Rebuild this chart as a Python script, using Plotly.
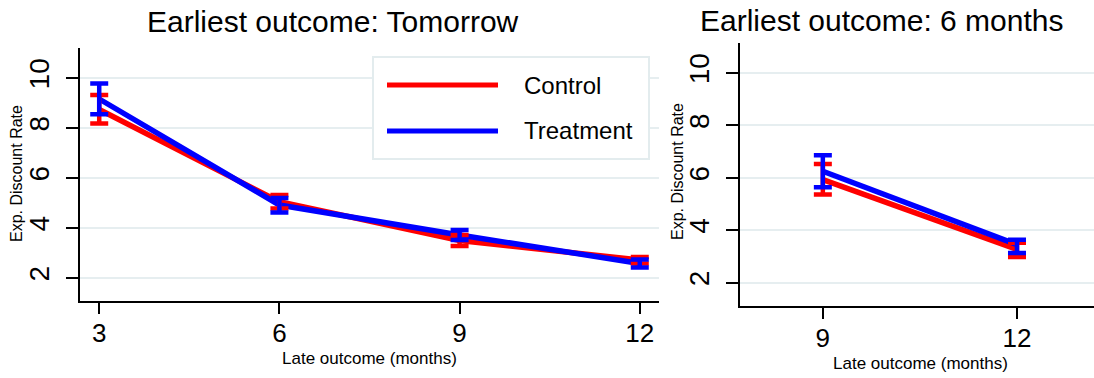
import plotly.graph_objects as go

# ---- data ----
late_left = [3, 6, 9, 12]
ctrl_left = [8.74, 5.05, 3.50, 2.72]
ctrl_left_lo = [8.18, 4.78, 3.28, 2.58]
ctrl_left_hi = [9.32, 5.32, 3.72, 2.84]
trt_left = [9.16, 4.92, 3.72, 2.58]
trt_left_lo = [8.55, 4.62, 3.52, 2.42]
trt_left_hi = [9.78, 5.20, 3.92, 2.74]

late_right = [9, 12]
ctrl_right = [5.93, 3.27]
ctrl_right_lo = [5.36, 2.98]
ctrl_right_hi = [6.53, 3.52]
trt_right = [6.25, 3.45]
trt_right_lo = [5.64, 3.13]
trt_right_hi = [6.86, 3.64]

y_ticks = [2, 4, 6, 8, 10]
series_names = ["Control", "Treatment"]
RED = "#ff0000"
BLUE = "#0000ff"
FONT = "Liberation Sans, Arial, Helvetica, sans-serif"

W, H = 1094, 378
def px(x):
    return x / W
def py(y):
    return 1 - y / H

fig = go.Figure()

def add_series(x, y, color, xa, ya, name):
    fig.add_trace(go.Scatter(x=x, y=y, mode="lines", line=dict(color=color, width=5.5),
                             xaxis=xa, yaxis=ya, showlegend=False, name=name))

def add_err(x, y, lo, hi, color, xa, ya, name):
    fig.add_trace(go.Scatter(
        x=x, y=y, mode="markers", marker=dict(size=1, color=color, opacity=0),
        error_y=dict(type="data", symmetric=False,
                     array=[h - v for h, v in zip(hi, y)],
                     arrayminus=[v - l for l, v in zip(lo, y)],
                     color=color, thickness=4.5, width=9),
        xaxis=xa, yaxis=ya, showlegend=False, name=name, hoverinfo="skip"))

add_series(late_left, ctrl_left, RED, "x", "y", "Control")
add_series(late_left, trt_left, BLUE, "x", "y", "Treatment")
add_series(late_right, ctrl_right, RED, "x2", "y2", "Control")
add_series(late_right, trt_right, BLUE, "x2", "y2", "Treatment")
add_err(late_left, ctrl_left, ctrl_left_lo, ctrl_left_hi, RED, "x", "y", "Control")
add_err(late_left, trt_left, trt_left_lo, trt_left_hi, BLUE, "x", "y", "Treatment")
add_err(late_right, ctrl_right, ctrl_right_lo, ctrl_right_hi, RED, "x2", "y2", "Control")
add_err(late_right, trt_right, trt_right_lo, trt_right_hi, BLUE, "x2", "y2", "Treatment")

GRID = "#e6eef0"
xcommon = dict(showline=True, linecolor="black", linewidth=2, ticks="outside", ticklen=11,
               tickwidth=2, tickcolor="black", showgrid=False, zeroline=False,
               ticklabelstandoff=-3,
               tickfont=dict(family=FONT, size=26, color="black"), fixedrange=True)
ycommon = dict(showline=True, linecolor="black", linewidth=2, ticks="outside", ticklen=12,
               tickwidth=2, tickcolor="black", showgrid=True, gridcolor=GRID, gridwidth=2,
               zeroline=False, tickvals=y_ticks, tickangle=-90, ticklabelstandoff=6,
               tickfont=dict(family=FONT, size=28, color="black"), fixedrange=True)

fig.update_layout(
    width=W, height=H, margin=dict(l=0, r=0, t=0, b=0),
    paper_bgcolor="white", plot_bgcolor="white", showlegend=False,
    xaxis=dict(domain=[px(80), px(659)], range=[2.68, 12.32], tickvals=late_left, anchor="y", **xcommon),
    yaxis=dict(domain=[py(301), py(48)], range=[1.08, 11.2], anchor="x", **ycommon),
    xaxis2=dict(domain=[px(740), 1.0], range=[7.72, 13.19], tickvals=late_right, anchor="y2", **xcommon),
    yaxis2=dict(domain=[py(306), py(43)], range=[1.11, 11.14], anchor="x2", **ycommon),
)

ann = []
def text(x, y, s, size, angle=0, xanchor="center", yanchor="middle"):
    ann.append(dict(x=px(x), y=py(y), xref="paper", yref="paper", text=s, showarrow=False,
                    textangle=angle, xanchor=xanchor, yanchor=yanchor,
                    font=dict(family=FONT, size=size, color="black")))

text(333, 22, "Earliest outcome: Tomorrow", 30)
text(882, 20, "Earliest outcome: 6 months", 30)
text(369, 358, "Late outcome (months)", 17)
text(920, 363, "Late outcome (months)", 17)
text(17, 174, "Exp. Discount Rate", 16, angle=-90)
text(677, 172, "Exp. Discount Rate", 16, angle=-90)

# legend (manual)
legend_box = (373, 57, 649, 159)
legend_rows = [85, 131]
shapes = [dict(type="rect", xref="paper", yref="paper",
               x0=px(legend_box[0]), x1=px(legend_box[2]), y0=py(legend_box[3]), y1=py(legend_box[1]),
               line=dict(color="#e3ecee", width=2), fillcolor="white", layer="above")]
for name, color, yy in zip(series_names, [RED, BLUE], legend_rows):
    shapes.append(dict(type="line", xref="paper", yref="paper", x0=px(387), x1=px(498),
                       y0=py(yy), y1=py(yy), line=dict(color=color, width=5), layer="above"))
    text(522, yy, name, 24, xanchor="left")

fig.update_layout(annotations=ann, shapes=shapes)
fig.write_html("out.html", config={"displayModeBar": False},
               post_script="document.body.style.margin='0';document.body.style.overflow='hidden';")
